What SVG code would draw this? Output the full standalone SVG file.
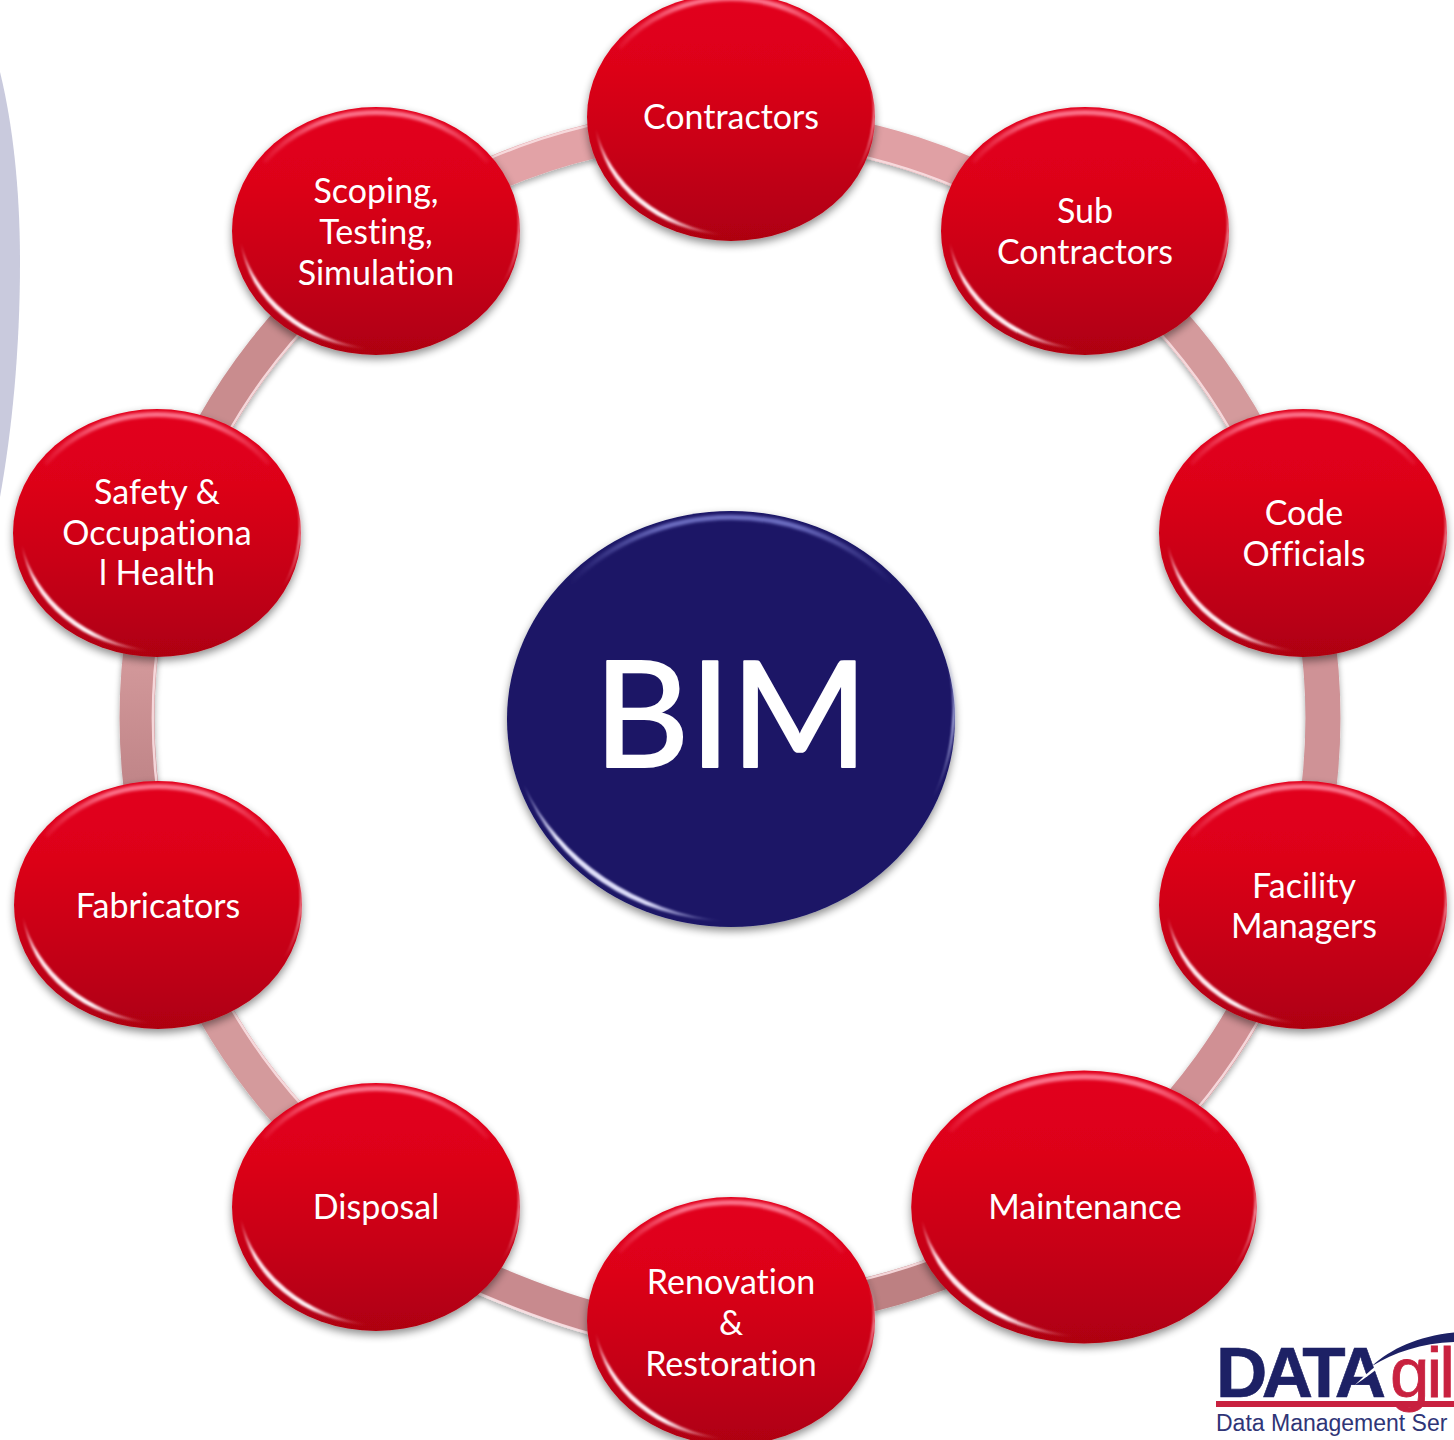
<svg xmlns="http://www.w3.org/2000/svg" width="1454" height="1440" viewBox="0 0 1454 1440">
<style>
.lb{font-family:"Lato","Liberation Sans",sans-serif;font-size:34px;fill:#fff;text-anchor:middle;font-variant-ligatures:none}
.rg{fill:none;stroke-width:35}
.rh{fill:none;stroke:#f9dfe2;stroke-width:2.5;opacity:.9}
</style>
<defs>
<linearGradient id="red" x1="0" y1="0" x2="0" y2="1">
<stop offset="0" stop-color="#e2021c"/><stop offset=".3" stop-color="#dd0019"/><stop offset=".62" stop-color="#c90016"/><stop offset="1" stop-color="#ae0011"/>
</linearGradient>
<linearGradient id="leftRing" gradientUnits="userSpaceOnUse" x1="0" y1="650" x2="0" y2="790">
<stop offset="0" stop-color="#d49a9c"/><stop offset="1" stop-color="#bf8487"/>
</linearGradient>
<linearGradient id="cres" gradientUnits="userSpaceOnUse" x1="-135" y1="12" x2="-6" y2="117">
<stop offset="0" stop-color="#ffc8d4" stop-opacity=".2"/><stop offset=".2" stop-color="#ffe2e8"/><stop offset=".65" stop-color="#fff2f6"/><stop offset="1" stop-color="#ffc8d4" stop-opacity="0"/>
</linearGradient>
<linearGradient id="rim" gradientUnits="userSpaceOnUse" x1="-120" y1="0" x2="120" y2="0">
<stop offset="0" stop-color="#ff8098" stop-opacity="0"/><stop offset=".3" stop-color="#ff8098" stop-opacity=".9"/><stop offset=".7" stop-color="#ff8098" stop-opacity=".9"/><stop offset="1" stop-color="#ff8098" stop-opacity="0"/>
</linearGradient>
<linearGradient id="rim2" gradientUnits="userSpaceOnUse" x1="570" y1="0" x2="892" y2="0">
<stop offset="0" stop-color="#7678cc" stop-opacity="0"/><stop offset=".3" stop-color="#7678cc" stop-opacity=".9"/><stop offset=".7" stop-color="#7678cc" stop-opacity=".9"/><stop offset="1" stop-color="#7678cc" stop-opacity="0"/>
</linearGradient>
<linearGradient id="side" gradientUnits="userSpaceOnUse" x1="0" y1="-70" x2="0" y2="80">
<stop offset="0" stop-color="#ffb0c0" stop-opacity="0"/><stop offset=".5" stop-color="#ffd0da"/><stop offset="1" stop-color="#ffb0c0" stop-opacity="0"/>
</linearGradient>
<linearGradient id="cresB" gradientUnits="userSpaceOnUse" x1="520" y1="785" x2="725" y2="921">
<stop offset="0" stop-color="#b0b2ee" stop-opacity=".3"/><stop offset=".25" stop-color="#e4e4fa"/><stop offset=".7" stop-color="#d8d8f8"/><stop offset="1" stop-color="#9a9ce0" stop-opacity="0"/>
</linearGradient>
<linearGradient id="sideB" gradientUnits="userSpaceOnUse" x1="0" y1="630" x2="0" y2="810">
<stop offset="0" stop-color="#b0b4ea" stop-opacity="0"/><stop offset=".5" stop-color="#c0c4f2"/><stop offset="1" stop-color="#b0b4ea" stop-opacity="0"/>
</linearGradient>
<filter id="sh" x="-10%" y="-10%" width="120%" height="125%"><feGaussianBlur in="SourceAlpha" stdDeviation="4"/><feOffset dy="4"/><feComponentTransfer><feFuncA type="linear" slope=".45"/></feComponentTransfer><feMerge><feMergeNode/><feMergeNode in="SourceGraphic"/></feMerge></filter>
<filter id="rsh" x="-5%" y="-5%" width="110%" height="110%"><feGaussianBlur in="SourceAlpha" stdDeviation="3"/><feOffset dy="3"/><feComponentTransfer><feFuncA type="linear" slope=".35"/></feComponentTransfer><feMerge><feMergeNode/><feMergeNode in="SourceGraphic"/></feMerge></filter>
<filter id="b1" x="-20%" y="-20%" width="140%" height="140%"><feGaussianBlur stdDeviation="1"/></filter>
<filter id="b2" x="-20%" y="-60%" width="140%" height="220%"><feGaussianBlur stdDeviation="1.5"/></filter>
<g id="disc">
<ellipse rx="144" ry="124" fill="url(#red)" filter="url(#sh)"/>
<path d="M-112,-69 A138 119 0 0 1 112,-69" fill="none" stroke="url(#rim)" stroke-width="5" filter="url(#b2)"/>
<path d="M-135,12 A139 119 0 0 0 -6,118 A160 136 0 0 1 -135,12Z" fill="url(#cres)" filter="url(#b1)"/>
<path d="M137,-42 A141 121 0 0 1 126,54 A160 138 0 0 0 137,-42Z" fill="url(#side)" filter="url(#b1)"/>
</g>
<clipPath id="logoClip"><rect x="1200" y="1320" width="254" height="120"/></clipPath>
</defs>

<path d="M0,72 C13,125 20,190 20,262 C20,350 12,430 0,497Z" fill="#c9cadd"/>

<g id="connectors" filter="url(#rsh)">
<path class="rg" stroke="#e2a2a6" d="M381,238 A593 593 0 0 1 730,125"/>
<path class="rg" stroke="#e0a0a4" d="M730,125 A593 593 0 0 1 1079,238"/>
<path class="rg" stroke="#d49a9c" d="M1079,238 A593 593 0 0 1 1294,535"/>
<path class="rg" stroke="#cf9296" d="M1294,535 A593 593 0 0 1 1294,901"/>
<path class="rg" stroke="#d09094" d="M1294,901 A593 593 0 0 1 1079,1198"/>
<path class="rg" stroke="#bd8082" d="M1079,1198 A593 593 0 0 1 730,1311"/>
<path class="rg" stroke="#c88a8e" style="stroke-width:32" d="M440,1258 Q550,1309 620,1324"/>
<path class="rg" stroke="#d49a9c" d="M381,1198 A593 593 0 0 1 166,901"/>
<path class="rg" stroke="url(#leftRing)" d="M166,901 A593 593 0 0 1 166,535"/>
<path class="rg" stroke="#c98c8e" d="M166,535 A593 593 0 0 1 381,238"/>
<path class="rh" d="M372,225 A609 609 0 0 1 730,109"/>
<path class="rh" d="M730,141 A577 577 0 0 1 1069,251"/>
<path class="rh" d="M1069,251 A577 577 0 0 1 1279,540"/>
<path class="rh" d="M1309,906 A609 609 0 0 1 1088,1211"/>
<path class="rh" d="M1069,1185 A577 577 0 0 1 730,1295"/>
<path class="rh" d="M433,1273 Q545,1325 617,1340"/>
<path class="rh" d="M391,1185 A577 577 0 0 1 181,896"/>
<path class="rh" d="M181,896 A577 577 0 0 1 181,540"/>
<path class="rh" d="M181,540 A577 577 0 0 1 391,251"/>
</g>

<g id="node-contractors"><use href="#disc" transform="translate(731 117)"/><text class="lb" x="731" y="128.500">Contractors</text></g>
<g id="node-sub"><use href="#disc" transform="translate(1085 231)"/><text class="lb" x="1085" y="222.500">Sub</text><text class="lb" x="1085" y="263.500">Contractors</text></g>
<g id="node-code"><use href="#disc" transform="translate(1303 533)"/><text class="lb" x="1304" y="524.500">Code</text><text class="lb" x="1304" y="565.500">Officials</text></g>
<g id="node-facility"><use href="#disc" transform="translate(1303 905)"/><text class="lb" x="1304" y="897.500">Facility</text><text class="lb" x="1304" y="937.500">Managers</text></g>
<g id="node-maintenance"><use href="#disc" transform="translate(1084 1207) scale(1.2 1.1)"/><text class="lb" x="1085" y="1218.500">Maintenance</text></g>
<g id="node-renovation"><use href="#disc" transform="translate(731 1321)"/><text class="lb" x="731" y="1293.500">Renovation</text><text class="lb" x="731" y="1334.500">&amp;</text><text class="lb" x="731" y="1375.500">Restoration</text></g>
<g id="node-disposal"><use href="#disc" transform="translate(376 1207)"/><text class="lb" x="376" y="1218.500">Disposal</text></g>
<g id="node-fabricators"><use href="#disc" transform="translate(158 905)"/><text class="lb" x="158" y="917.500">Fabricators</text></g>
<g id="node-safety"><use href="#disc" transform="translate(157 533)"/><text class="lb" x="157" y="503.500">Safety &amp;</text><text class="lb" x="157" y="544.500">Occupationa</text><text class="lb" x="157" y="584.500">l Health</text></g>
<g id="node-scoping"><use href="#disc" transform="translate(376 231)"/><text class="lb" x="376" y="202.500">Scoping,</text><text class="lb" x="376" y="243.500">Testing,</text><text class="lb" x="376" y="284.500">Simulation</text></g>

<g id="node-bim">
<ellipse cx="731" cy="719" rx="224" ry="208" fill="#1a1666" filter="url(#sh)"/>
<path d="M570,583 A218 202 0 0 1 892,583" fill="none" stroke="url(#rim2)" stroke-width="5" filter="url(#b2)"/>
<path d="M524,785 A219 203 0 0 0 725,921 A250 230 0 0 1 524,785Z" fill="url(#cresB)" filter="url(#b1)"/>
<path d="M942,640 A220 204 0 0 1 932,800 A250 232 0 0 0 942,640Z" fill="url(#sideB)" filter="url(#b1)"/>
<text x="731" y="767" font-family="Lato,'Liberation Sans',sans-serif" font-size="148" fill="#fff" stroke="#fff" stroke-width="2" stroke-linejoin="round" text-anchor="middle">BIM</text>
</g>

<g id="logo" clip-path="url(#logoClip)">
<rect x="1216" y="1401" width="238" height="6" fill="#c8213f"/>
<text x="1216" y="1397" font-family="'Liberation Sans',sans-serif" font-weight="700" font-size="71" fill="#1d2165" stroke="#1d2165" stroke-width=".6" textLength="170" lengthAdjust="spacing">DATA</text>
<path d="M1355,1385 C1362,1378 1372,1368 1385,1360 L1385,1363 C1375,1370 1366,1378 1355,1385Z" fill="#fff"/>
<path d="M1372,1366 C1392,1348 1420,1335 1460,1332 L1460,1342 C1425,1342 1395,1352 1372,1366Z" fill="#1d2165"/>
<text x="1390" y="1397" font-family="'Liberation Sans',sans-serif" font-size="71" fill="#c8213f" stroke="#c8213f" stroke-width=".8" textLength="65" lengthAdjust="spacing">gil</text>
<text x="1216" y="1431" font-family="'Liberation Sans',sans-serif" font-size="23" fill="#2f3577">Data Management Ser</text>
</g>
</svg>
